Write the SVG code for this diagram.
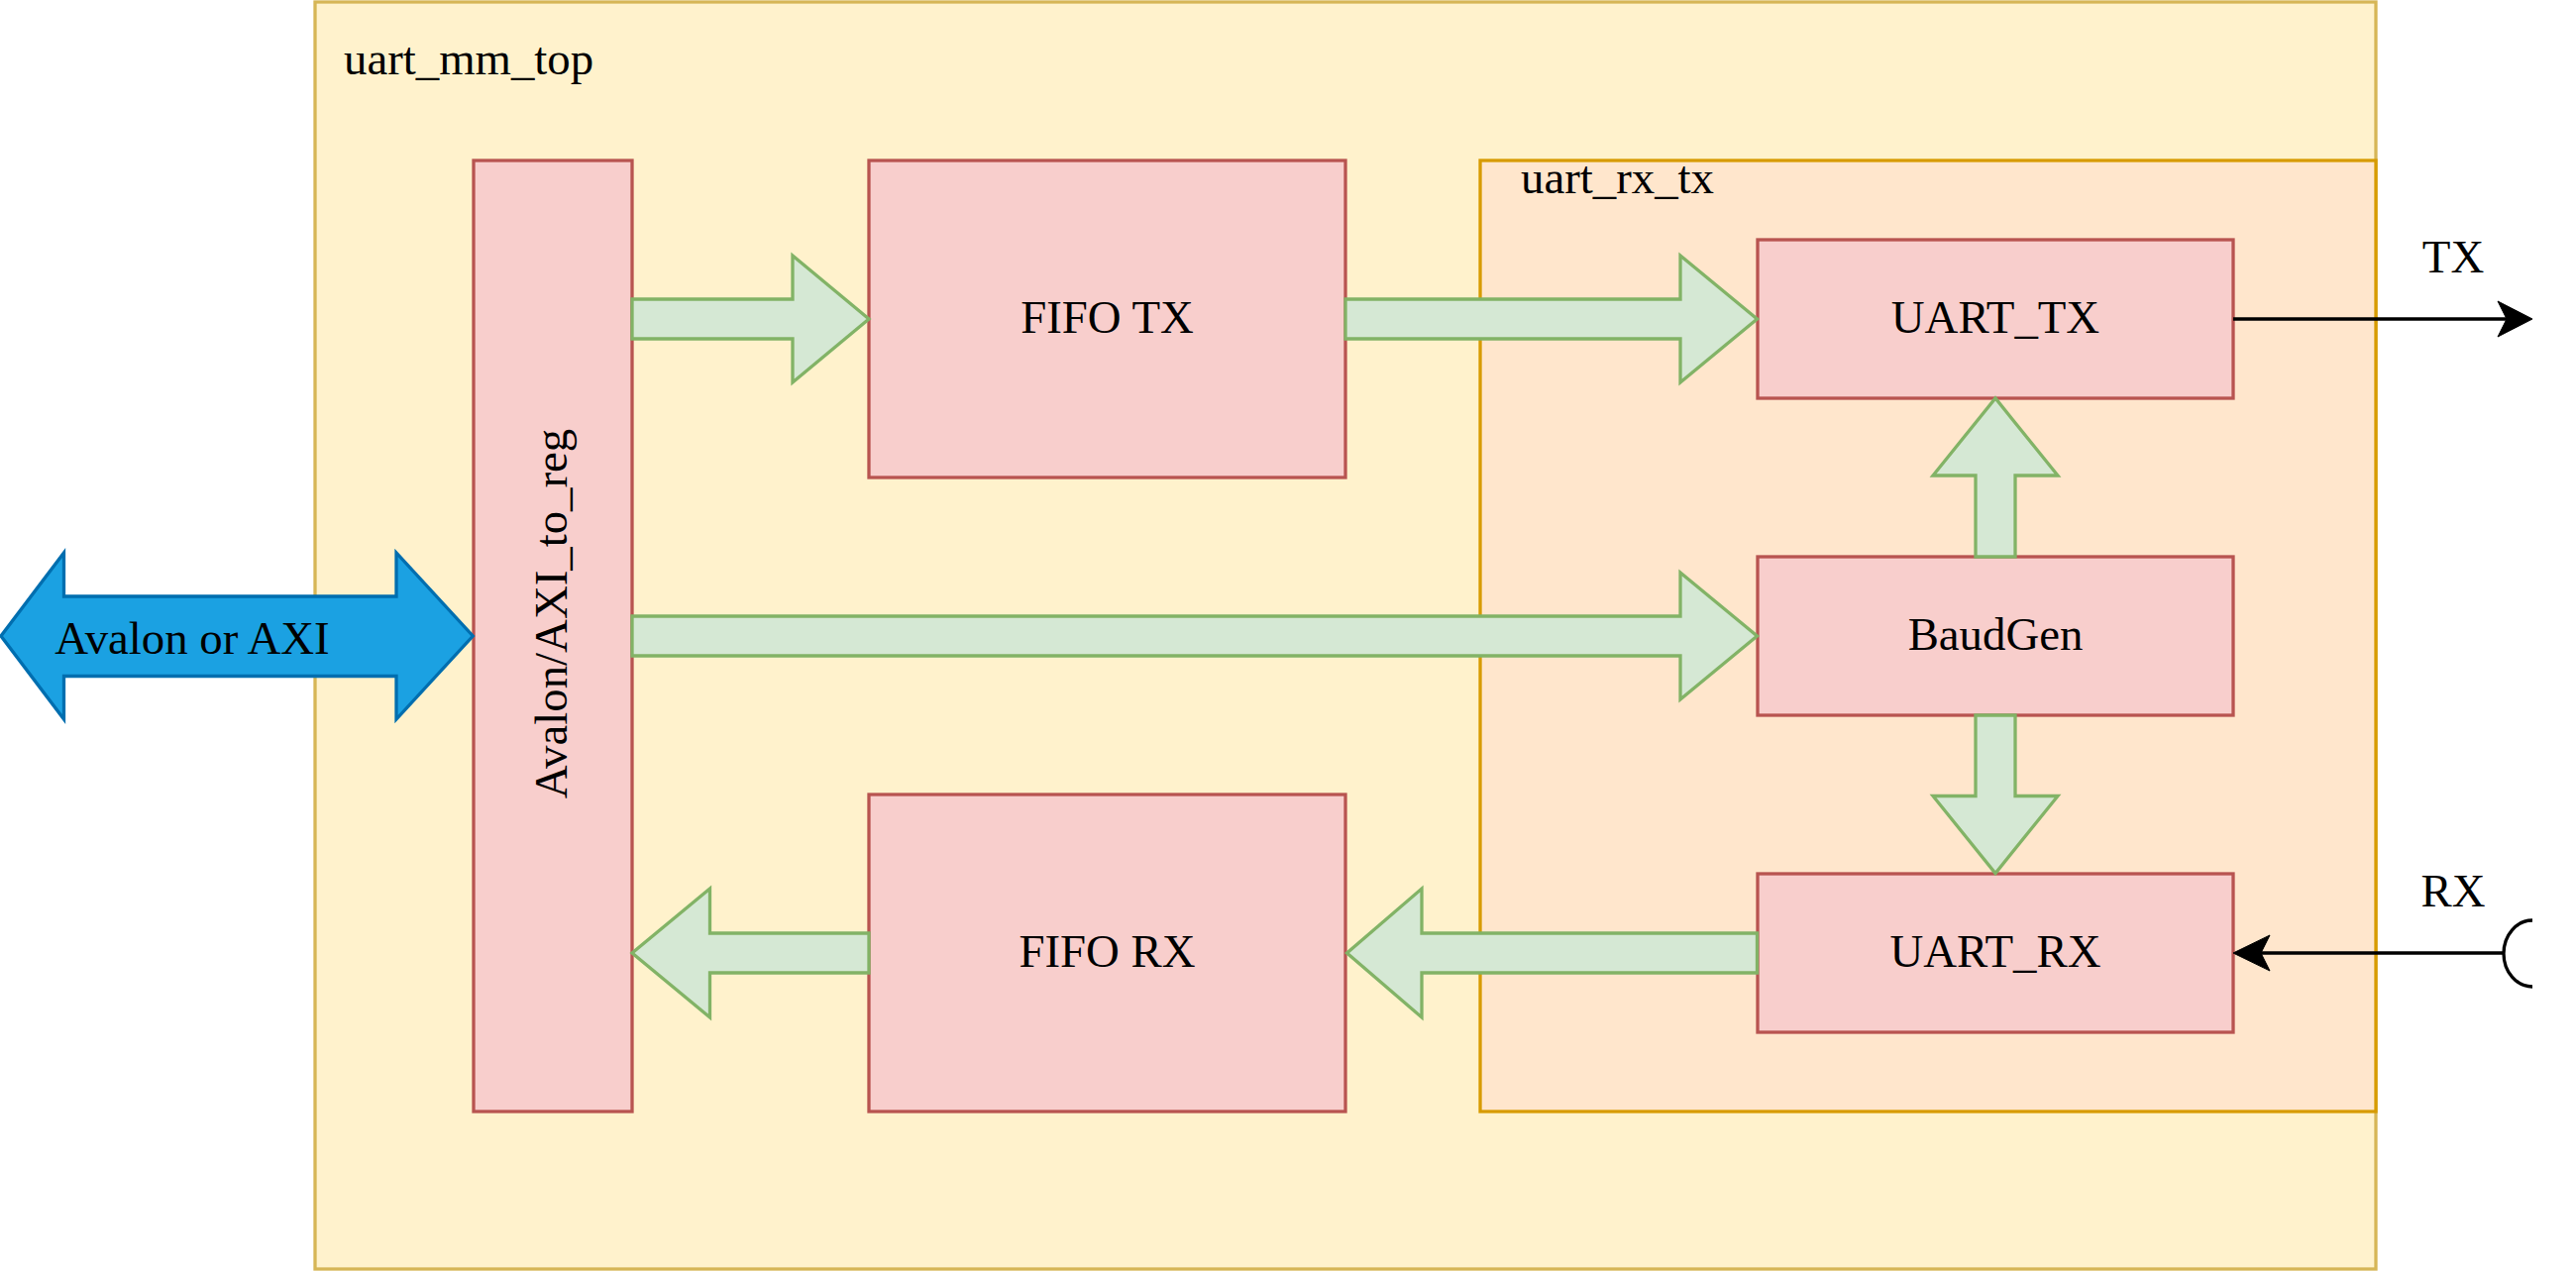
<svg xmlns="http://www.w3.org/2000/svg" width="2600" height="1284" viewBox="0 0 2600 1284">
<style>
text{font-family:"Liberation Serif","Times New Roman",serif;font-size:46.8px;fill:#000}
.c{text-anchor:middle}
.blk{fill:#f8cecc;stroke:#b85450;stroke-width:3.3}
.fat{fill:#d5e8d4;stroke:#82b366;stroke-width:3.3;stroke-linejoin:miter}
.wire{fill:none;stroke:#000;stroke-width:3.3}
.head{fill:#000;stroke:#000;stroke-width:1}
</style>
<rect width="2600" height="1284" fill="#ffffff"/>
<g id="uart_mm_top">
<rect x="318" y="2" width="2080" height="1279" fill="#fff2cc" stroke="#d6b656" stroke-width="3.3"/>
<text x="347" y="75">uart_mm_top</text>
</g>
<g id="uart_rx_tx">
<rect x="1494" y="162" width="904" height="960" fill="#ffe6cc" stroke="#d79b00" stroke-width="3.3"/>
<text x="1535" y="195">uart_rx_tx</text>
</g>
<g id="avalon_to_reg">
<rect class="blk" x="478" y="162" width="160" height="960"/>
<text class="c" transform="translate(571.7,619.5) rotate(-90)">Avalon/AXI_to_reg</text>
</g>
<g id="fifo_tx">
<rect class="blk" x="877" y="162" width="481" height="320"/>
<text class="c" x="1117.5" y="336">FIFO TX</text>
</g>
<g id="fifo_rx">
<rect class="blk" x="877" y="802" width="481" height="320"/>
<text class="c" x="1117.5" y="976">FIFO RX</text>
</g>
<g id="uart_tx">
<rect class="blk" x="1774" y="242" width="480" height="160"/>
<text class="c" x="2014" y="336">UART_TX</text>
</g>
<g id="baudgen">
<rect class="blk" x="1774" y="562" width="480" height="160"/>
<text class="c" x="2014" y="656">BaudGen</text>
</g>
<g id="uart_rx">
<rect class="blk" x="1774" y="882" width="480" height="160"/>
<text class="c" x="2014" y="976">UART_RX</text>
</g>
<g id="bus">
<path d="M1,642 L64.5,558 L64.5,602 L400,602 L400,558 L477.3,642 L400,726 L400,682.5 L64.5,682.5 L64.5,726 Z" fill="#1ba1e2" stroke="#006eaf" stroke-width="3.3"/>
<text class="c" x="194" y="660">Avalon or AXI</text>
</g>
<g id="connectors">
<path class="fat" d="M638,302 L800,302 L800,258 L877,322 L800,386 L800,342 L638,342 Z"/>
<path class="fat" d="M1358,302 L1696,302 L1696,258 L1773.5,322 L1696,386 L1696,342 L1358,342 Z"/>
<path class="fat" d="M638,622 L1696,622 L1696,578 L1773.5,642 L1696,706 L1696,662 L638,662 Z"/>
<path class="fat" d="M877,942 L716.5,942 L716.5,897 L638,962 L716.5,1027 L716.5,982 L877,982 Z"/>
<path class="fat" d="M1773.5,942 L1435,942 L1435,897 L1359.5,962 L1435,1027 L1435,982 L1773.5,982 Z"/>
<path class="fat" d="M1994,562 L1994,480 L1951,480 L2014,402 L2077,480 L2034,480 L2034,562 Z"/>
<path class="fat" d="M1994,722 L1994,803.5 L1951,803.5 L2014,881.5 L2077,803.5 L2034,803.5 L2034,722 Z"/>
<line class="wire" x1="2254" y1="322" x2="2530" y2="322"/>
<path class="head" d="M2556,322 L2521,304 L2530,322 L2521,340 Z"/>
<line class="wire" x1="2527" y1="962" x2="2282" y2="962"/>
<path class="head" d="M2254,962 L2291,944 L2282,962 L2291,980 Z"/>
<path class="wire" d="M2556,929 A29 33.5 0 0 0 2556,996"/>
<text class="c" x="2476" y="275">TX</text>
<text class="c" x="2476" y="915">RX</text>
</g>
</svg>
